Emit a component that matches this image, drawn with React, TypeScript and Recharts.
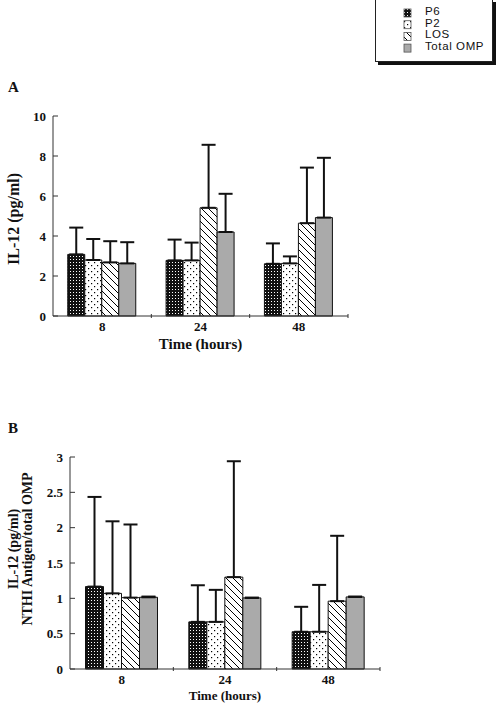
import React from "react";
import { BarChart, Bar, XAxis, YAxis, ErrorBar } from "recharts";

const times = ["8", "24", "48"];
const seriesNames = ["P6", "P2", "LOS", "Total OMP"];

// panel A: IL-12 (pg/ml), mean and top of error bar
const p6A = [3.08, 2.78, 2.61];
const p6AUp = [4.42, 3.82, 3.63];
const p2A = [2.8, 2.78, 2.63];
const p2AUp = [3.85, 3.67, 2.98];
const losA = [2.68, 5.41, 4.64];
const losAUp = [3.74, 8.56, 7.42];
const ompA = [2.63, 4.2, 4.92];
const ompAUp = [3.69, 6.11, 7.91];
const ticksA = [0, 2, 4, 6, 8, 10];

// panel B: ratio to total OMP
const p6B = [1.166, 0.667, 0.527];
const p6BUp = [2.435, 1.185, 0.88];
const p2B = [1.07, 0.667, 0.527];
const p2BUp = [2.09, 1.12, 1.19];
const losB = [1.01, 1.3, 0.96];
const losBUp = [2.045, 2.94, 1.885];
const ompB = [1.015, 1.006, 1.02];
const ompBUp = [1.025, 1.01, 1.025];
const ticksB = [0, 0.5, 1, 1.5, 2, 2.5, 3];

const serif = "'Liberation Serif', 'Times New Roman', serif";
const sans = "'Liberation Sans', Arial, sans-serif";

function buildRows(vals: number[][], ups: number[][]) {
  return times.map((t, i) => ({
    time: t,
    p6: vals[0][i],
    p6Err: [0, ups[0][i] - vals[0][i]],
    p2: vals[1][i],
    p2Err: [0, ups[1][i] - vals[1][i]],
    los: vals[2][i],
    losErr: [0, ups[2][i] - vals[2][i]],
    omp: vals[3][i],
    ompErr: [0, ups[3][i] - vals[3][i]],
  }));
}

const dataA = buildRows([p6A, p2A, losA, ompA], [p6AUp, p2AUp, losAUp, ompAUp]);
const dataB = buildRows([p6B, p2B, losB, ompB], [p6BUp, p2BUp, losBUp, ompBUp]);

function Patterns({ id }: { id: string }) {
  return (
    <defs>
      <pattern id={`${id}-p6`} width="3" height="3" patternUnits="userSpaceOnUse">
        <rect width="3" height="3" fill="#111" />
        <rect x="1" y="1" width="1" height="1" fill="#fff" />
      </pattern>
      <pattern id={`${id}-p2`} width="6" height="6" patternUnits="userSpaceOnUse">
        <rect width="6" height="6" fill="#fff" />
        <rect x="1" y="1" width="1.2" height="1.2" fill="#000" />
        <rect x="4" y="4" width="1.2" height="1.2" fill="#000" />
      </pattern>
      <pattern id={`${id}-los`} width="7" height="7" patternUnits="userSpaceOnUse">
        <rect width="7" height="7" fill="#fff" />
        <path d="M-1,-1 L8,8 M-1,6 L1,8 M6,-1 L8,1" stroke="#000" strokeWidth="1" />
      </pattern>
    </defs>
  );
}

function XTick(props: any) {
  const { x, y, payload, band } = props;
  return (
    <g>
      <line x1={x + band / 2} x2={x + band / 2} y1={y} y2={y - 4} stroke="#333" />
      <text x={x} y={y + 13} textAnchor="middle" fontFamily={serif} fontWeight="bold" fontSize={13} fill="#111">
        {payload.value}
      </text>
    </g>
  );
}

function YTick(props: any) {
  const { x, y, payload } = props;
  return (
    <g>
      <line x1={x + 7} x2={x + 12} y1={y} y2={y} stroke="#333" />
      <text x={x} y={y + 4.5} textAnchor="end" fontFamily={serif} fontWeight="bold" fontSize={13} fill="#111">
        {payload.value}
      </text>
    </g>
  );
}

function YTitle({ viewBox, lines, cx, size, gap, shift }: any) {
  const cy = viewBox.y + viewBox.height / 2 + shift;
  return (
    <g>
      {lines.map((l: string, i: number) => (
        <text
          key={i}
          x={cx + i * gap}
          y={cy}
          transform={`rotate(-90 ${cx + i * gap} ${cy})`}
          textAnchor="middle"
          dominantBaseline="central"
          fontFamily={serif}
          fontWeight="bold"
          fontSize={size}
          fill="#111"
        >
          {l}
        </text>
      ))}
    </g>
  );
}

function XTitle({ viewBox, dy, size }: any) {
  return (
    <text
      x={viewBox.x + viewBox.width / 2}
      y={viewBox.y + dy}
      textAnchor="middle"
      dominantBaseline="central"
      fontFamily={serif}
      fontWeight="bold"
      fontSize={size}
      fill="#111"
    >
      Time (hours)
    </text>
  );
}

function Panel(props: {
  id: string;
  data: any[];
  width: number;
  height: number;
  margin: any;
  yWidth: number;
  xHeight: number;
  domain: [number, number];
  ticks: number[];
  band: number;
  yLines: string[];
  yCx: number;
  ySize: number;
  yGap: number;
  yShift: number;
  xDy: number;
  xSize: number;
}) {
  const p = props;
  const err = { width: 7, strokeWidth: 2, stroke: "#111", direction: "y" as const };
  const barStyle = { stroke: "#111", strokeWidth: 1, isAnimationActive: false };
  return (
    <BarChart width={p.width} height={p.height} data={p.data} margin={p.margin} barCategoryGap="15%" barGap={0}>
      <Patterns id={p.id} />
      <XAxis
        dataKey="time"
        height={p.xHeight}
        tickLine={false}
        tickSize={0}
        stroke="#333"
        interval={0}
        tick={<XTick band={p.band} />}
        label={<XTitle dy={p.xDy} size={p.xSize} />}
      />
      <YAxis
        width={p.yWidth}
        domain={p.domain}
        ticks={p.ticks}
        tickLine={false}
        tickSize={0}
        tickMargin={7}
        stroke="#333"
        interval={0}
        tick={<YTick />}
        label={<YTitle lines={p.yLines} cx={p.yCx} size={p.ySize} gap={p.yGap} shift={p.yShift} />}
      />
      <Bar dataKey="p6" name="P6" fill={`url(#${p.id}-p6)`} {...barStyle}>
        <ErrorBar dataKey="p6Err" {...err} />
      </Bar>
      <Bar dataKey="p2" name="P2" fill={`url(#${p.id}-p2)`} {...barStyle}>
        <ErrorBar dataKey="p2Err" {...err} />
      </Bar>
      <Bar dataKey="los" name="LOS" fill={`url(#${p.id}-los)`} {...barStyle}>
        <ErrorBar dataKey="losErr" {...err} />
      </Bar>
      <Bar dataKey="omp" name="Total OMP" fill="#aaaaaa" {...barStyle}>
        <ErrorBar dataKey="ompErr" {...err} />
      </Bar>
    </BarChart>
  );
}

function LegendBox() {
  const fills = ["url(#lg-p6)", "url(#lg-p2)", "url(#lg-los)", "#aaaaaa"];
  return (
    <div
      style={{
        position: "absolute",
        left: 375,
        top: -1,
        width: 118,
        height: 63,
        border: "1px solid #222",
        background: "#fff",
        boxShadow: "3px 3px 0 #111",
        boxSizing: "border-box",
      }}
    >
      <svg width={10} height={50} style={{ position: "absolute", left: 27, top: 8 }}>
        <Patterns id="lg" />
        {fills.map((f, i) => (
          <rect key={i} x={1} y={1 + i * 11.7} width={7} height={8} fill={f} stroke="#555" strokeWidth={0.8} />
        ))}
      </svg>
      <div
        style={{
          position: "absolute",
          left: 49,
          top: 6,
          fontFamily: sans,
          fontSize: 11.5,
          letterSpacing: 0.6,
          lineHeight: "11.7px",
          color: "#111",
          whiteSpace: "nowrap",
        }}
      >
        {seriesNames.map((n) => (
          <div key={n}>{n}</div>
        ))}
      </div>
    </div>
  );
}

export default function App() {
  const letter: React.CSSProperties = {
    position: "absolute",
    fontFamily: serif,
    fontWeight: "bold",
    fontSize: 15,
    color: "#111",
    lineHeight: "15px",
  };
  return (
    <div style={{ position: "absolute", left: 0, top: 0, width: 500, height: 703, background: "#fff", overflow: "hidden" }}>
      <LegendBox />
      <div style={{ ...letter, left: 8, top: 80 }}>A</div>
      <div style={{ ...letter, left: 8, top: 421 }}>B</div>
      <div style={{ position: "absolute", left: 0, top: 0 }}>
        <Panel
          id="a"
          data={dataA}
          width={500}
          height={360}
          margin={{ top: 116, right: 152, bottom: 14, left: 0 }}
          yWidth={53}
          xHeight={30}
          domain={[0, 10]}
          ticks={ticksA}
          band={295 / 3}
          yLines={["IL-12 (pg/ml)"]}
          yCx={13}
          ySize={16}
          yGap={0}
          yShift={3}
          xDy={28}
          xSize={15}
        />
      </div>
      <div style={{ position: "absolute", left: 0, top: 380 }}>
        <Panel
          id="b"
          data={dataB}
          width={500}
          height={323}
          margin={{ top: 77, right: 120, bottom: 0, left: 0 }}
          yWidth={70}
          xHeight={34}
          domain={[0, 3]}
          ticks={ticksB}
          band={310 / 3}
          yLines={["IL-12 (pg/ml)", "NTHI Antigen/total OMP"]}
          yCx={13.5}
          ySize={14}
          yGap={13.5}
          yShift={-14}
          xDy={26}
          xSize={13}
        />
      </div>
    </div>
  );
}
